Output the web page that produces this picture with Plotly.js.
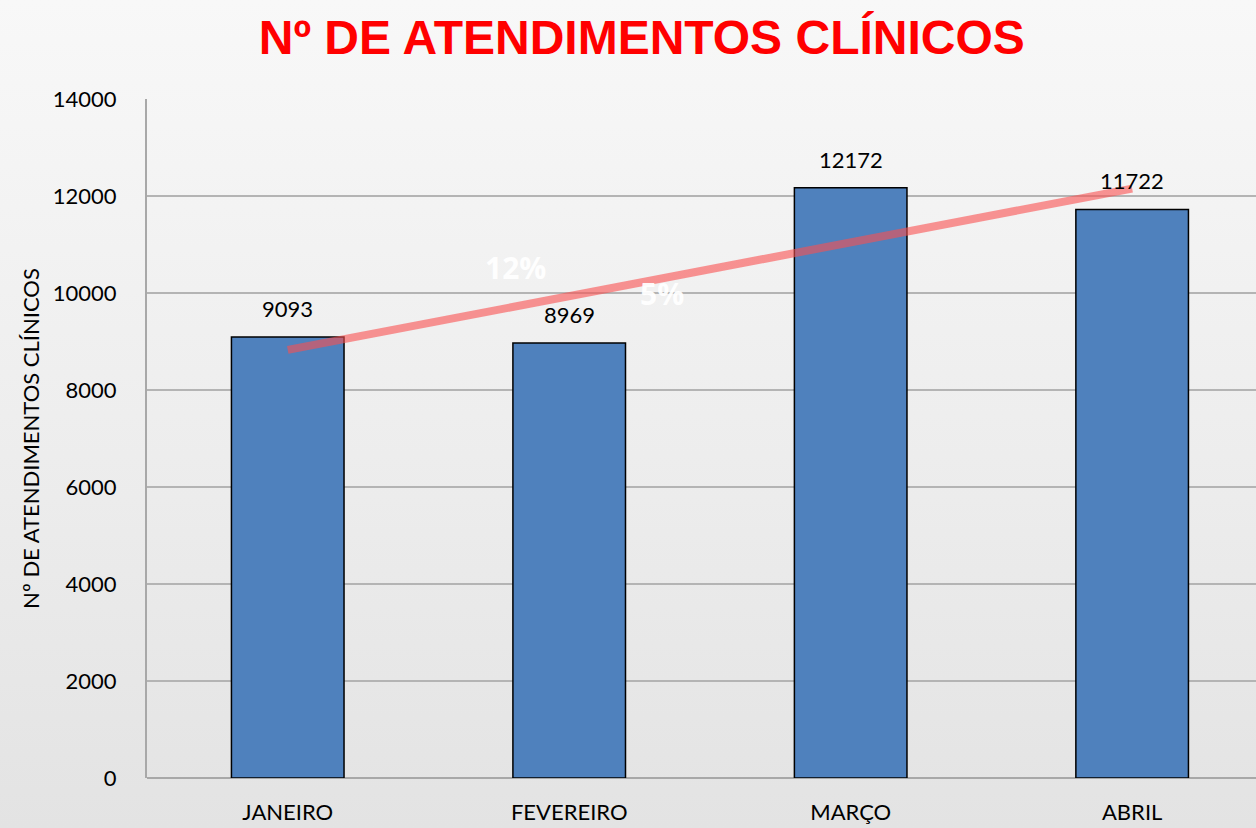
<!DOCTYPE html>
<html>
<head>
<meta charset="utf-8">
<script src="https://cdn.plot.ly/plotly-3.0.1.min.js"></script>
<style>
html,body{margin:0;padding:0;}
body{width:1256px;height:828px;background:linear-gradient(to bottom,#f8f8f8 0%,#ececec 60%,#e3e3e3 100%);}
#chart{width:1256px;height:828px;}
</style>
</head>
<body>
<div id="chart"></div>
<script>
const months = ["JANEIRO", "FEVEREIRO", "MARÇO", "ABRIL"];
const atendimentos = [9093, 8969, 12172, 11722];
const trendMonths = ["JANEIRO", "ABRIL"];
const trendValues = [8826, 12153];
const pctLabels = ["12%", "5%"];
const pctX = [0.81, 1.33];
const pctY = [10520, 10000];
const yTicks = [0, 2000, 4000, 6000, 8000, 10000, 12000, 14000];

const labelFont = {family: "Lato, 'Open Sans', sans-serif", size: 22, color: "#000"};

const bars = {
  type: "bar",
  x: months,
  y: atendimentos,
  width: 0.4,
  marker: {color: "#4F81BD", line: {color: "#000000", width: 1.5}},
  hoverinfo: "x+y"
};
const trend = {
  type: "scatter",
  mode: "lines",
  x: trendMonths,
  y: trendValues,
  line: {color: "rgba(250,80,80,0.6)", width: 8},
  hoverinfo: "skip"
};

const valueAnnotations = months.map((m, i) => ({
  x: m, y: atendimentos[i], xref: "x", yref: "y",
  text: String(atendimentos[i]), showarrow: false,
  yanchor: "bottom", yshift: 13,
  font: labelFont
}));
const pctAnnotations = pctLabels.map((t, i) => ({
  x: pctX[i], y: pctY[i], xref: "x", yref: "y",
  text: t, showarrow: false,
  font: {family: "'Open Sans', Lato, sans-serif", size: 30, color: "rgba(255,255,255,0.95)", weight: "bold"}
}));

const layout = {
  width: 1256, height: 828,
  paper_bgcolor: "rgba(0,0,0,0)",
  plot_bgcolor: "rgba(0,0,0,0)",
  margin: {l: 147, r: 0, t: 99, b: 50},
  showlegend: false,
  title: {
    text: "Nº DE ATENDIMENTOS CLÍNICOS",
    font: {family: "'Liberation Sans', Arial, sans-serif", size: 48, color: "#FF0000", weight: "bold"},
    x: 0.511, xanchor: "center", y: 0.955, yanchor: "middle"
  },
  xaxis: {
    type: "category",
    range: [-0.5, 3.44],
    showgrid: false,
    showline: false,
    ticks: "",
    ticklabelstandoff: 19,
    tickfont: labelFont,
    fixedrange: true
  },
  yaxis: {
    range: [0, 14000],
    tickvals: yTicks,
    ticktext: yTicks.map(String),
    showgrid: true,
    gridcolor: "#b4b4b4",
    gridwidth: 1.5,
    zeroline: true,
    zerolinecolor: "#a8a8a8",
    zerolinewidth: 2,
    showline: true,
    linecolor: "#a8a8a8",
    linewidth: 2,
    ticks: "",
    ticklabelstandoff: 24,
    tickfont: labelFont,
    title: {
      text: "Nº DE ATENDIMENTOS CLÍNICOS",
      font: {family: "Lato, 'Open Sans', sans-serif", size: 22, color: "#000"},
      standoff: 7
    },
    fixedrange: true
  },
  annotations: valueAnnotations.concat(pctAnnotations)
};

Plotly.newPlot("chart", [bars, trend], layout, {displayModeBar: false, staticPlot: true});
</script>
</body>
</html>
